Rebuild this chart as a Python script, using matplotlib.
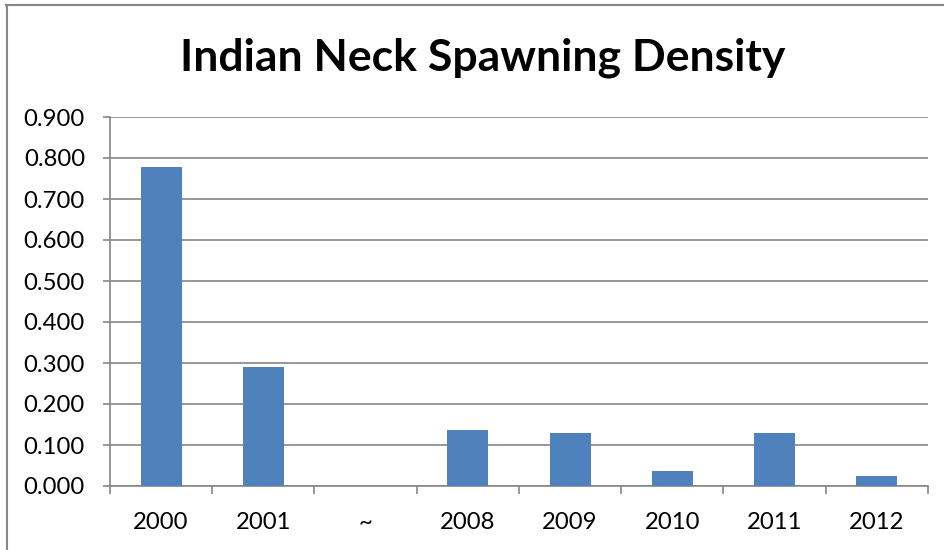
import matplotlib
matplotlib.use("Agg")
import matplotlib.pyplot as plt
from matplotlib.lines import Line2D
import numpy as np

# Dados
anos = ["2000", "2001", "~", "2008", "2009", "2010", "2011", "2012"]
densidade = [0.778, 0.290, 0.0, 0.137, 0.130, 0.037, 0.129, 0.024]
y_ticks = [0.0, 0.1, 0.2, 0.3, 0.4, 0.5, 0.6, 0.7, 0.8, 0.9]

COR_BARRA = "#4F81BD"
COR_GRADE = "#868686"
FONTE = ["Lato", "DejaVu Sans"]

plt.rcParams["font.family"] = FONTE

fig = plt.figure(figsize=(9.45, 5.5), dpi=100)
ax = fig.add_axes([110 / 945, 1 - 486 / 550, (928 - 110) / 945, (486 - 117) / 550])

x = np.arange(len(anos))
ax.bar(x, densidade, width=0.4, color=COR_BARRA, zorder=3)

ax.set_xlim(-0.5, len(anos) - 0.5)
ax.set_ylim(0, 0.9)
ax.set_yticks(y_ticks)
ax.set_yticklabels([f"{v:.3f}" for v in y_ticks])
ax.set_xticks(x)
ax.set_xticklabels(anos)
ax.set_xticks(np.arange(len(anos) + 1) - 0.5, minor=True)

ax.yaxis.grid(True, color=COR_GRADE, linewidth=1.2, zorder=0)
for lado in ["top", "right"]:
    ax.spines[lado].set_visible(False)
for lado in ["left", "bottom"]:
    ax.spines[lado].set_color(COR_GRADE)
    ax.spines[lado].set_linewidth(1.2)

ax.tick_params(axis="y", length=5, width=1.2, color=COR_GRADE, pad=13, labelsize=17.2)
ax.tick_params(axis="x", which="major", length=0, pad=19, labelsize=17.2)
ax.tick_params(axis="x", which="minor", length=6, width=1.2, color=COR_GRADE)

fig.text(483 / 945, 1 - 58 / 550, "Indian Neck Spawning Density", ha="center", va="center",
         fontsize=32, fontweight="bold")

# Borda do gráfico (topo e esquerda)
fig.add_artist(Line2D([6 / 945, 1], [1 - 5 / 550, 1 - 5 / 550], color=COR_GRADE, linewidth=1.5))
fig.add_artist(Line2D([7 / 945, 7 / 945], [0, 1 - 5 / 550], color=COR_GRADE, linewidth=1.5))

fig.savefig("out.png", dpi=100)
